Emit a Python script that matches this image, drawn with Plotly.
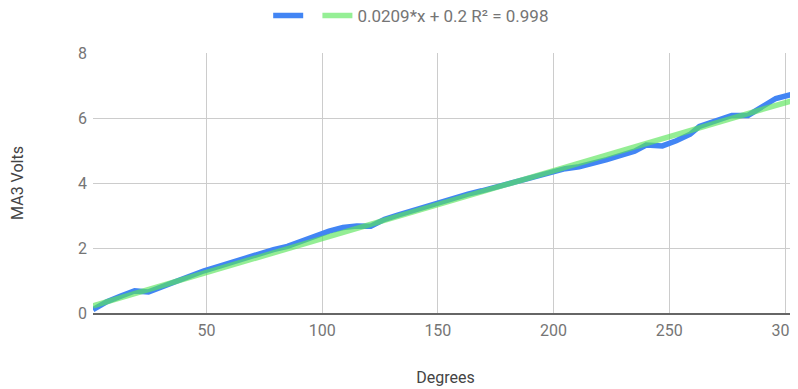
import plotly.graph_objects as go

# Data
degrees = [1, 7, 13, 19, 25, 31, 37, 43, 49, 55, 61, 67, 73, 79, 85, 91, 97, 103, 109, 115,
           121, 127, 133, 139, 145, 151, 157, 163, 169, 175, 181, 187, 193, 199, 205, 211,
           217, 223, 229, 235, 240, 247, 253, 259, 263, 271, 277, 284, 290, 296, 306]
ma3_volts = [0.10, 0.35, 0.52, 0.68, 0.65, 0.82, 1.00, 1.17, 1.30, 1.43, 1.57, 1.71, 1.84,
             1.95, 2.05, 2.20, 2.38, 2.52, 2.63, 2.68, 2.67, 2.88, 3.02, 3.15, 3.28, 3.42,
             3.55, 3.66, 3.76, 3.88, 3.98, 4.10, 4.22, 4.35, 4.44, 4.50, 4.60, 4.72, 4.85,
             4.98, 5.17, 5.14, 5.30, 5.50, 5.74, 5.95, 6.08, 6.08, 6.35, 6.60, 6.78]

trend_slope = 0.0209
trend_intercept = 0.2
trend_label = "0.0209*x + 0.2 R² = 0.998"
trend_x = [degrees[0], degrees[-1]]
trend_y = [trend_slope * v + trend_intercept for v in trend_x]

x_ticks = [50, 100, 150, 200, 250, 300]
y_ticks = [0, 2, 4, 6, 8]

fig = go.Figure()
fig.add_trace(go.Scatter(x=degrees, y=ma3_volts, mode="lines", name=" ",
                         line=dict(color="#4285F4", width=5.5)))
fig.add_trace(go.Scatter(x=trend_x, y=trend_y, mode="lines", name=trend_label,
                         line=dict(color="#5CE65C", width=5.5), opacity=0.65))

# The page body adds an 8px margin, so the figure is sized to fill the rest of the window.
fig.update_layout(
    width=790, height=381,
    margin=dict(l=85, r=0, t=45, b=76, autoexpand=False),
    paper_bgcolor="white", plot_bgcolor="white",
    font=dict(family="Roboto, sans-serif", size=16, color="#757575"),
    showlegend=True,
    legend=dict(orientation="h", x=0.2485, xanchor="left", y=0.979, yanchor="middle",
                yref="container", font=dict(size=17, color="#757575"),
                itemwidth=30, bgcolor="rgba(0,0,0,0)"),
    xaxis=dict(range=[1, 305.6], tickvals=x_ticks, showgrid=True, gridcolor="#CCCCCC",
               gridwidth=1, zeroline=False, showline=True, linecolor="#666666", linewidth=2,
               ticks="", ticklabelstandoff=2, automargin=False, ticklabeloverflow="allow",
               tickfont=dict(size=16, color="#757575"),
               title=dict(text="Degrees", standoff=33, font=dict(size=16, color="#444444"))),
    yaxis=dict(range=[0, 8], tickvals=y_ticks, showgrid=True, gridcolor="#CCCCCC",
               gridwidth=1, zeroline=False, showline=False, ticks="", ticklabelstandoff=5,
               automargin=False, tickfont=dict(size=16, color="#757575"),
               title=dict(text="MA3 Volts", standoff=50, font=dict(size=16, color="#444444"))),
)
fig.write_html("out.html")
